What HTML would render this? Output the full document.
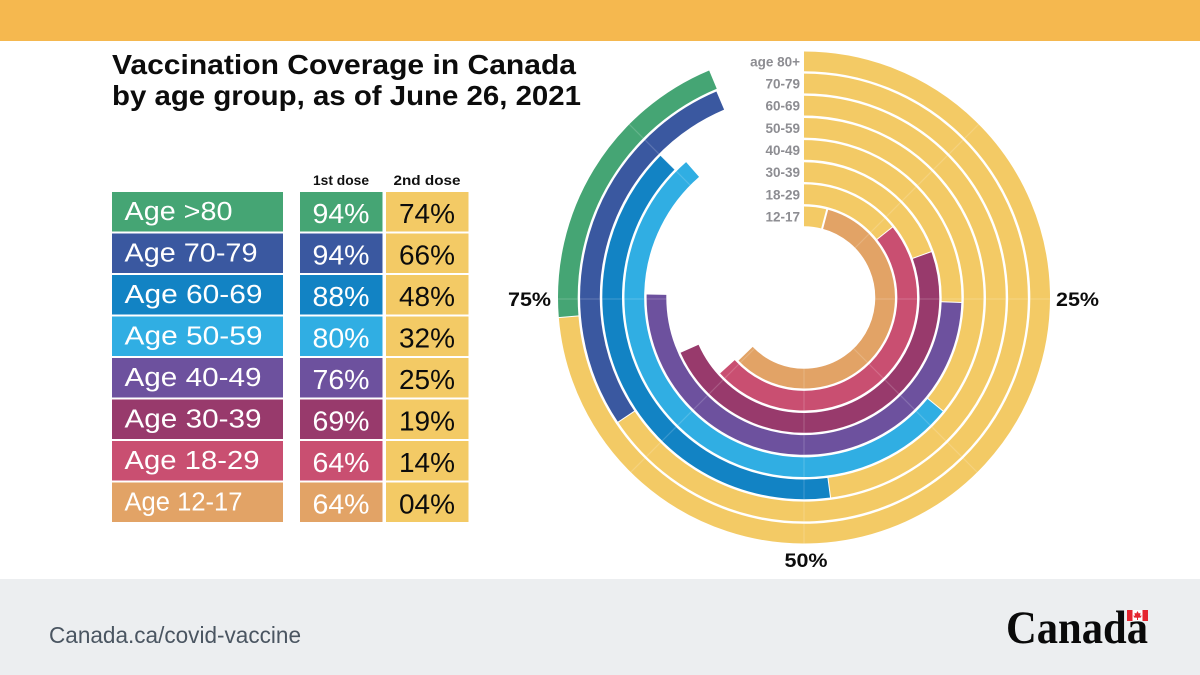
<!DOCTYPE html>
<html lang="en">
<head>
<meta charset="utf-8">
<title>Vaccination Coverage in Canada</title>
<style>
html,body{margin:0;padding:0;background:#fff;}
body{width:1200px;height:675px;overflow:hidden;}
svg{display:block;}
text{font-family:"Liberation Sans",sans-serif;}
</style>
</head>
<body>
<svg id="chart" xmlns="http://www.w3.org/2000/svg" width="1200" height="675" viewBox="0 0 1200 675">
  <rect x="0" y="0" width="1200" height="675" fill="#ffffff"/>
  <rect x="0" y="0" width="1200" height="41" fill="#f5b84f"/>
  <rect x="0" y="579" width="1200" height="96" fill="#eceef0"/>
  <text x="112" y="74" font-size="28" font-weight="700" fill="#0c0c0c" textLength="464" lengthAdjust="spacingAndGlyphs">Vaccination Coverage in Canada</text>
  <text x="112" y="105" font-size="28" font-weight="700" fill="#0c0c0c" textLength="469" lengthAdjust="spacingAndGlyphs">by age group, as of June 26, 2021</text>
  <text x="341" y="185" font-size="14" font-weight="700" fill="#111" text-anchor="middle" textLength="56" lengthAdjust="spacingAndGlyphs">1st dose</text>
  <text x="427" y="185" font-size="14" font-weight="700" fill="#111" text-anchor="middle" textLength="67" lengthAdjust="spacingAndGlyphs">2nd dose</text>
  <g id="table"></g>
  <g id="rings"></g>
  <text x="1056" y="306" font-size="19" font-weight="700" fill="#0c0c0c" textLength="43" lengthAdjust="spacingAndGlyphs">25%</text>
  <text x="806" y="567" font-size="19" font-weight="700" fill="#0c0c0c" text-anchor="middle" textLength="43" lengthAdjust="spacingAndGlyphs">50%</text>
  <text x="508" y="306" font-size="19" font-weight="700" fill="#0c0c0c" textLength="43" lengthAdjust="spacingAndGlyphs">75%</text>
  <a>
    <text x="49" y="643" font-size="23" fill="#4a5561" textLength="252" lengthAdjust="spacingAndGlyphs">Canada.ca/covid-vaccine</text>
  </a>
  <g>
    <text x="1006" y="643" font-size="47" font-weight="700" fill="#0a0a0a" style="font-family:'Liberation Serif',serif" textLength="142" lengthAdjust="spacingAndGlyphs">Canada</text>
    <rect x="1127" y="610" width="21" height="11" fill="#ffffff"/>
    <rect x="1127" y="610" width="5.5" height="11" fill="#e5252f"/>
    <rect x="1142.5" y="610" width="5.5" height="11" fill="#e5252f"/>
    <polygon points="1137.5,611 1138.8,613.5 1140.5,612.8 1140,616 1141.6,615.3 1141,617.5 1138,617.8 1138,620 1137,620 1137,617.8 1134,617.5 1133.4,615.3 1135,616 1134.5,612.8 1136.2,613.5" fill="#e5252f"/>
  </g>
</svg>
<script>
// Row data, outermost ring first
var ringLabels = ['age 80+', '70-79', '60-69', '50-59', '40-49', '30-39', '18-29', '12-17'];
var rowLabels = ['Age >80', 'Age 70-79', 'Age 60-69', 'Age 50-59', 'Age 40-49', 'Age 30-39', 'Age 18-29', 'Age 12-17'];
var rowColors = ['#45a574', '#3a58a0', '#1283c4', '#30aee3', '#6d519e', '#983a6c', '#c94f71', '#e2a366'];
// Values printed in the table
var printedFirstDose = ['94%', '94%', '88%', '80%', '76%', '69%', '64%', '64%'];
var printedSecondDose = ['74%', '66%', '48%', '32%', '25%', '19%', '14%', '04%'];
// Arc extents as drawn in the rings (percent of a full turn)
var ringFirstDose = [93.7, 93.6, 87.4, 88.6, 75.3, 68.3, 63.3, 62.8];
var ringSecondDose = [73.7, 65.6, 47.9, 35.9, 25.5, 19.5, 14.3, 4.1];
var gridTicks = [12.5, 25, 37.5, 50, 62.5, 75, 87.5];

var NS = 'http://www.w3.org/2000/svg';
var YELLOW = '#f3ca65';
var cx = 804, cy = 297.5, gridCy = 299;
var outerR = 246, ringPitch = 22.15, bandW = 19.7;

function ringMidRadius(i) { return outerR - bandW / 2 - i * ringPitch; }
function angleFor(pct) { return pct / 100 * 2 * Math.PI; }
function polarX(r, pct) { return cx + r * Math.sin(angleFor(pct)); }
function polarY(r, pct) { return cy - r * Math.cos(angleFor(pct)); }
function arcPath(r, fromPct, toPct) {
  var large = (toPct - fromPct) > 50 ? 1 : 0;
  return 'M' + polarX(r, fromPct).toFixed(2) + ' ' + polarY(r, fromPct).toFixed(2) +
    ' A' + r + ' ' + r + ' 0 ' + large + ' 1 ' + polarX(r, toPct).toFixed(2) + ' ' + polarY(r, toPct).toFixed(2);
}
function make(tag, attrs, parent) {
  var el = document.createElementNS(NS, tag);
  for (var k in attrs) el.setAttribute(k, attrs[k]);
  parent.appendChild(el);
  return el;
}

var rings = document.getElementById('rings');
ringLabels.forEach(function (label, i) {
  var r = ringMidRadius(i);
  var g = make('g', {}, rings);
  
  

  var second = make('path', { d: arcPath(r, 0, ringSecondDose[i]), fill: 'none', stroke: YELLOW, 'stroke-width': bandW }, g);
  
  

  var first = make('path', { d: arcPath(r, ringSecondDose[i], ringFirstDose[i]), fill: 'none', stroke: rowColors[i], 'stroke-width': bandW }, g);
  
  

  var a = ringSecondDose[i];
  var sep = make('line', {
    x1: polarX(r - bandW / 2 - 0.5, a), y1: polarY(r - bandW / 2 - 0.5, a),
    x2: polarX(r + bandW / 2 + 0.5, a), y2: polarY(r + bandW / 2 + 0.5, a),
    stroke: '#ffffff', 'stroke-width': i === 7 ? 2 : 1
  }, g);
  
  

  var txt = make('text', {
    x: 800, y: cy - r + 5, 'font-size': 13.5, 'font-weight': 700, fill: '#8d8d92', 'text-anchor': 'end'
  }, g);
  txt.textContent = label;
  
  
});

// Faint grid spokes, clipped to the painted bands by masking the white gaps
var gridMask = make('mask', { id: 'bandMask', maskUnits: 'userSpaceOnUse', x: 0, y: 0, width: 1200, height: 675 }, rings);
ringLabels.forEach(function (label, i) {
  make('path', { d: arcPath(ringMidRadius(i), 0, ringFirstDose[i]), fill: 'none', stroke: '#fff', 'stroke-width': bandW }, gridMask);
});
var gridGroup = make('g', { mask: 'url(#bandMask)' }, rings);


gridTicks.forEach(function (t) {
  var s = Math.sin(angleFor(t)), c = Math.cos(angleFor(t));
  var spoke = make('line', {
    x1: cx + 70 * s, y1: gridCy - 70 * c, x2: cx + 250 * s, y2: gridCy - 250 * c,
    stroke: '#ffffff', 'stroke-opacity': 0.17, 'stroke-width': 1.2
  }, gridGroup);
  
  
});

// Table
var table = document.getElementById('table');
var rowTop = 192, rowPitch = 41.5, rowH = 39.5;
var labelWidths = [108, 133, 138, 138, 137, 137, 135, 118];
rowLabels.forEach(function (label, i) {
  var y = rowTop + i * rowPitch;
  var g = make('g', {}, table);
  
  

  var c1 = make('rect', { x: 112, y: y, width: 171, height: rowH, fill: rowColors[i] }, g);
  
  
  var c2 = make('rect', { x: 300, y: y, width: 82.5, height: rowH, fill: rowColors[i] }, g);
  
  
  var c3 = make('rect', { x: 386, y: y, width: 82.5, height: rowH, fill: YELLOW }, g);
  
  

  var t1 = make('text', { x: 124.5, y: y + 28, 'font-size': 25.5, fill: '#ffffff', textLength: labelWidths[i], lengthAdjust: 'spacingAndGlyphs' }, g);
  t1.textContent = label;
  
  
  var t2 = make('text', { x: 341, y: y + 31, 'font-size': 27.5, fill: '#ffffff', 'text-anchor': 'middle', textLength: 57, lengthAdjust: 'spacingAndGlyphs' }, g);
  t2.textContent = printedFirstDose[i];
  
  
  var t3 = make('text', { x: 427, y: y + 31, 'font-size': 27.5, fill: '#0c0c0c', 'text-anchor': 'middle', textLength: 56, lengthAdjust: 'spacingAndGlyphs' }, g);
  t3.textContent = printedSecondDose[i];
  
  
});
</script>
</body>
</html>
